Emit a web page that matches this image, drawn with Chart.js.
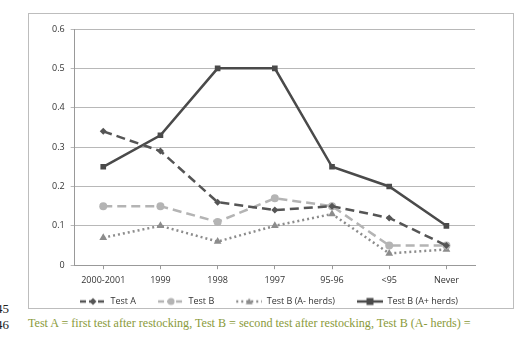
<!DOCTYPE html>
<html>
<head>
<meta charset="utf-8">
<script src="https://cdn.jsdelivr.net/npm/chart.js@4"></script>
<style>
  body { margin: 0; width: 515px; height: 340px; background: #fff; position: relative; overflow: hidden; }
  #frame { position: absolute; left: 28px; top: 13px; width: 484px; height: 294px; border: 1px solid #bdbdbd; }
  .num { position: absolute; left: -4px; font: 13px "Liberation Serif", serif; color: #222; }
  #caption { position: absolute; left: 28px; top: 316px; font: 12.1px "Liberation Serif", serif; color: #8a9a3a; white-space: nowrap; }
</style>
</head>
<body>
<div class="num" style="top:301px">45</div>
<div class="num" style="top:317px">46</div>
<div id="frame"><canvas id="line-chart" width="484" height="294"></canvas></div>
<div id="caption">Test A = first test after restocking, Test B = second test after restocking, Test B (A- herds) =</div>
<script>
const categories = ["2000-2001", "1999", "1998", "1997", "95-96", "<95", "Never"];
const testA = [0.34, 0.29, 0.16, 0.14, 0.15, 0.12, 0.05];
const testB = [0.15, 0.15, 0.11, 0.17, 0.15, 0.05, 0.05];
const testBMinus = [0.07, 0.10, 0.06, 0.10, 0.13, 0.03, 0.04];
const testBPlus = [0.25, 0.33, 0.50, 0.50, 0.25, 0.20, 0.10];
const yTicks = [0, 0.1, 0.2, 0.3, 0.4, 0.5, 0.6];

// legend image: blank gap on the left, then line sample with the marker in the middle
const GAP = 17;
function legendIcon(color, dash, style, size) {
  const c = document.createElement("canvas");
  c.width = GAP + 26;
  c.height = 10;
  const ctx = c.getContext("2d");
  const mid = GAP + 13;
  ctx.strokeStyle = color;
  ctx.fillStyle = color;
  ctx.lineWidth = 2.5;
  ctx.setLineDash(dash);
  ctx.beginPath();
  ctx.moveTo(GAP, 5);
  ctx.lineTo(GAP + 26, 5);
  ctx.stroke();
  ctx.setLineDash([]);
  ctx.beginPath();
  if (style === "rect") {
    ctx.rect(mid - size, 5 - size, size * 2, size * 2);
  } else if (style === "circle") {
    ctx.arc(mid, 5, size, 0, Math.PI * 2);
  } else if (style === "triangle") {
    ctx.moveTo(mid, 5 - size);
    ctx.lineTo(mid + size, 5 + size * 0.8);
    ctx.lineTo(mid - size, 5 + size * 0.8);
  } else {
    ctx.moveTo(mid, 5 - size);
    ctx.lineTo(mid + size, 5);
    ctx.lineTo(mid, 5 + size);
    ctx.lineTo(mid - size, 5);
  }
  ctx.closePath();
  ctx.fill();
  return c;
}

const ctx = document.querySelector("#line-chart").getContext("2d");
const series = [
  { label: "Test A", data: testA, color: "#555555", dash: [9, 5], style: "rectRot", r: 3.5, icon: legendIcon("#555555", [6, 3], "rectRot", 3.5) },
  { label: "Test B", data: testB, color: "#b4b4b4", dash: [9, 5], style: "circle", r: 4, icon: legendIcon("#b4b4b4", [6, 3], "circle", 3.5) },
  { label: "Test B (A- herds)", data: testBMinus, color: "#8c8c8c", dash: [2, 3], style: "triangle", r: 4.5, icon: legendIcon("#8c8c8c", [2, 3], "triangle", 3.5) },
  { label: "Test B (A+ herds)", data: testBPlus, color: "#4a4a4a", dash: [], style: "rect", r: 4, icon: legendIcon("#4a4a4a", [], "rect", 3.5) },
];

new Chart(ctx, {
  type: "line",
  data: {
    labels: categories,
    datasets: series.map((s) => ({
      label: s.label,
      data: s.data,
      borderColor: s.color,
      backgroundColor: s.color,
      borderDash: s.dash,
      borderWidth: 2.5,
      pointStyle: s.style,
      pointRadius: s.r,
      pointBorderWidth: 0,
      tension: 0,
    })),
  },
  options: {
    responsive: false,
    animation: false,
    layout: { padding: { left: 17, right: 38, top: 15, bottom: -8 } },
    plugins: {
      tooltip: { enabled: false },
      legend: {
        position: "bottom",
        labels: {
          usePointStyle: true,
          pointStyleWidth: GAP + 26,
          padding: 5,
          color: "#333",
          font: { family: "Open Sans", size: 9 },
          generateLabels(chart) {
            return Chart.defaults.plugins.legend.labels.generateLabels(chart).map((item, i) => {
              item.pointStyle = series[i].icon;
              return item;
            });
          },
        },
      },
    },
    scales: {
      x: {
        offset: true,
        grid: { drawOnChartArea: false, drawTicks: true, tickLength: 4, color: "#999" },
        border: { color: "#999" },
        ticks: { color: "#333", padding: 6, font: { family: "Open Sans", size: 9 }, maxRotation: 0 },
      },
      y: {
        min: 0,
        max: 0.6,
        afterBuildTicks: (axis) => { axis.ticks = yTicks.map((v) => ({ value: v })); },
        grid: { color: "#b8b8b8", lineWidth: 1, tickLength: 4 },
        border: { color: "#999" },
        ticks: { color: "#333", padding: 6, font: { family: "Open Sans", size: 9 }, callback: (v) => String(v) },
      },
    },
  },
});
</script>
</body>
</html>
